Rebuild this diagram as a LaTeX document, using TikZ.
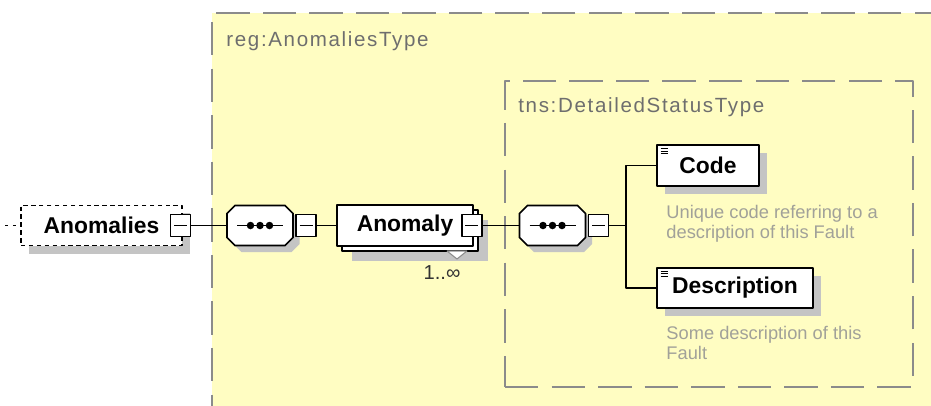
\documentclass[tikz,border=0pt]{standalone}
\usepackage[x11names, svgnames, rgb]{xcolor}
\usepackage{fontspec}
\setmainfont{Liberation Sans}
\newfontfamily\xsdtypefont[LetterSpace=8]{Liberation Sans}
\usepackage{tikz}
\usetikzlibrary{positioning, shadows, fit}
\definecolor{xsdyellow}{rgb}{1.0, 0.992157, 0.760784}
\definecolor{xsdframe}{rgb}{0.545098, 0.545098, 0.545098}
\definecolor{xsdtype}{rgb}{0.431373, 0.431373, 0.431373}
\definecolor{xsdnote}{rgb}{0.631373, 0.631373, 0.6}
\definecolor{xsdshadow}{rgb}{0.768627, 0.768627, 0.768627}

\tikzset{
    typebox/.style={draw=xsdframe, line width=1.1pt, dash pattern=on 19pt off 7.5pt,
        fill=xsdyellow, inner sep=0pt},
    typename/.style={text=xsdtype, font=\xsdtypefont\fontsize{11.7}{13}\selectfont,
        anchor=west, inner sep=0pt},
    shadowed/.style={drop shadow={shadow xshift=#1, shadow yshift=-#1,
        fill=xsdshadow, opacity=1}},
    shadowed/.default=0.16cm,
    elem/.style={draw, line width=1pt, fill=white, minimum height=0.81cm, inner sep=1pt,
        font=\fontsize{13}{15}\selectfont\bfseries},
    leaf/.style={elem, shadowed, path picture={
        \foreach \ly in {0.07,0.12,0.17}
            \draw[line width=0.6pt] ([shift={(0.07cm,-\ly cm)}]path picture bounding box.north west) -- ++(0.15cm,0);}},
    minus/.style={draw, fill=white, line width=0.9pt, minimum width=0.4cm,
        minimum height=0.44cm, inner sep=0pt, path picture={
        \draw[line width=0.9pt] ([xshift=0.07cm]path picture bounding box.west)
            -- ([xshift=-0.07cm]path picture bounding box.east);}},
    sequence/.pic={
        \draw[fill=white, line width=1pt, shadowed=0.13cm] (-25,-20) -- (25,-20) -- (33,-12)
            -- (33,12) -- (25,20) -- (-25,20) -- (-33,12) -- (-33,-12) -- cycle;
        \draw[line width=1.1pt] (-23,0) -- (23,0);
        \foreach \dx in {-9.5,0,9.5}
            \fill (\dx,0) circle (0.075cm);
        \node[minimum width=1.32cm, minimum height=0.8cm, inner sep=0pt] (-box) {};
    },
    note/.style={text=xsdnote, font=\fontsize{10.4}{11.3}\selectfont, align=left, inner sep=0pt},
    wire/.style={line width=0.9pt}
}

\begin{document}
\begin{tikzpicture}[x=0.02cm, y=-0.02cm, line join=bevel]
    \useasboundingbox (0,0) rectangle (931,406);
    \clip (0,0) rectangle (931,406);
    % complex types
    \node[typebox, fit={(212,13) (990,450)}] (anomtype) {};
    \node[typename] (anomtype-name) at ([shift={(0.3cm,-0.58cm)}]anomtype.north west) {reg:AnomaliesType};
    \node[typebox, fit={(505,81) (913,387)}] (dsttype) {};
    \node[typename] (dsttype-name) at ([shift={(0.28cm,-0.54cm)}]dsttype.north west) {tns:DetailedStatusType};

    % elements
    \node[elem, shadowed, dash pattern=on 2.5pt off 2pt, line width=0.7pt, minimum width=3.22cm] (anomalies) at (101.5,225.5) {Anomalies};
    \node[minus] (anomalies-m) at ([xshift=-0.04cm]anomalies.east) {};
    \pic (seq1) at (260,225.5) {sequence};
    \node[minus, right=0.04cm of seq1-box] (seq1-m) {};
    \node[elem, shadowed=0.3cm, copy shadow={shadow xshift=0.1cm, shadow yshift=-0.1cm, draw=black, fill=white, line width=1pt},
        minimum width=2.72cm] (anomaly) at (405,225.5) {Anomaly};
    \node[minus] (anomaly-m) at ([xshift=-0.04cm]anomaly.east) {};
    \draw[draw=xsdframe, fill=white, line width=0.6pt] (447,251) -- (467,251) -- (457,259) -- cycle;
    \node[font=\fontsize{11.5}{13}\selectfont, text=black!80, inner sep=0pt] (anomaly-occ) at (442,273) {1..∞};
    \pic (seq2) at (552.5,225.5) {sequence};
    \node[minus, right=0.04cm of seq2-box] (seq2-m) {};
    \node[leaf, minimum width=2.04cm] (code) at (708,165.5) {Code};
    \node[leaf, minimum width=3.12cm] (description) at (735,288) {Description};
    \node[note, below right=0.36cm and 0.2cm of code.south west] (code-note) {Unique code referring to a\\description of this Fault};
    \node[note, below right=0.34cm and 0.2cm of description.south west] (description-note) {Some description of this\\Fault};

    % wires
    \coordinate (parent) at (5,225.5);
    \coordinate (branch) at (626,225.5);
    \draw[wire, dash pattern=on 1.5pt off 3pt] (parent) -- (anomalies.west);
    \draw[wire] (anomalies-m) -- (seq1-box);
    \draw[wire] (seq1-m) -- (anomaly);
    \draw[wire] (anomaly-m) -- (seq2-box);
    \draw[wire] (seq2-m) -- (branch);
    \draw[wire] (code) -| (branch) |- (description);
\end{tikzpicture}
\end{document}
